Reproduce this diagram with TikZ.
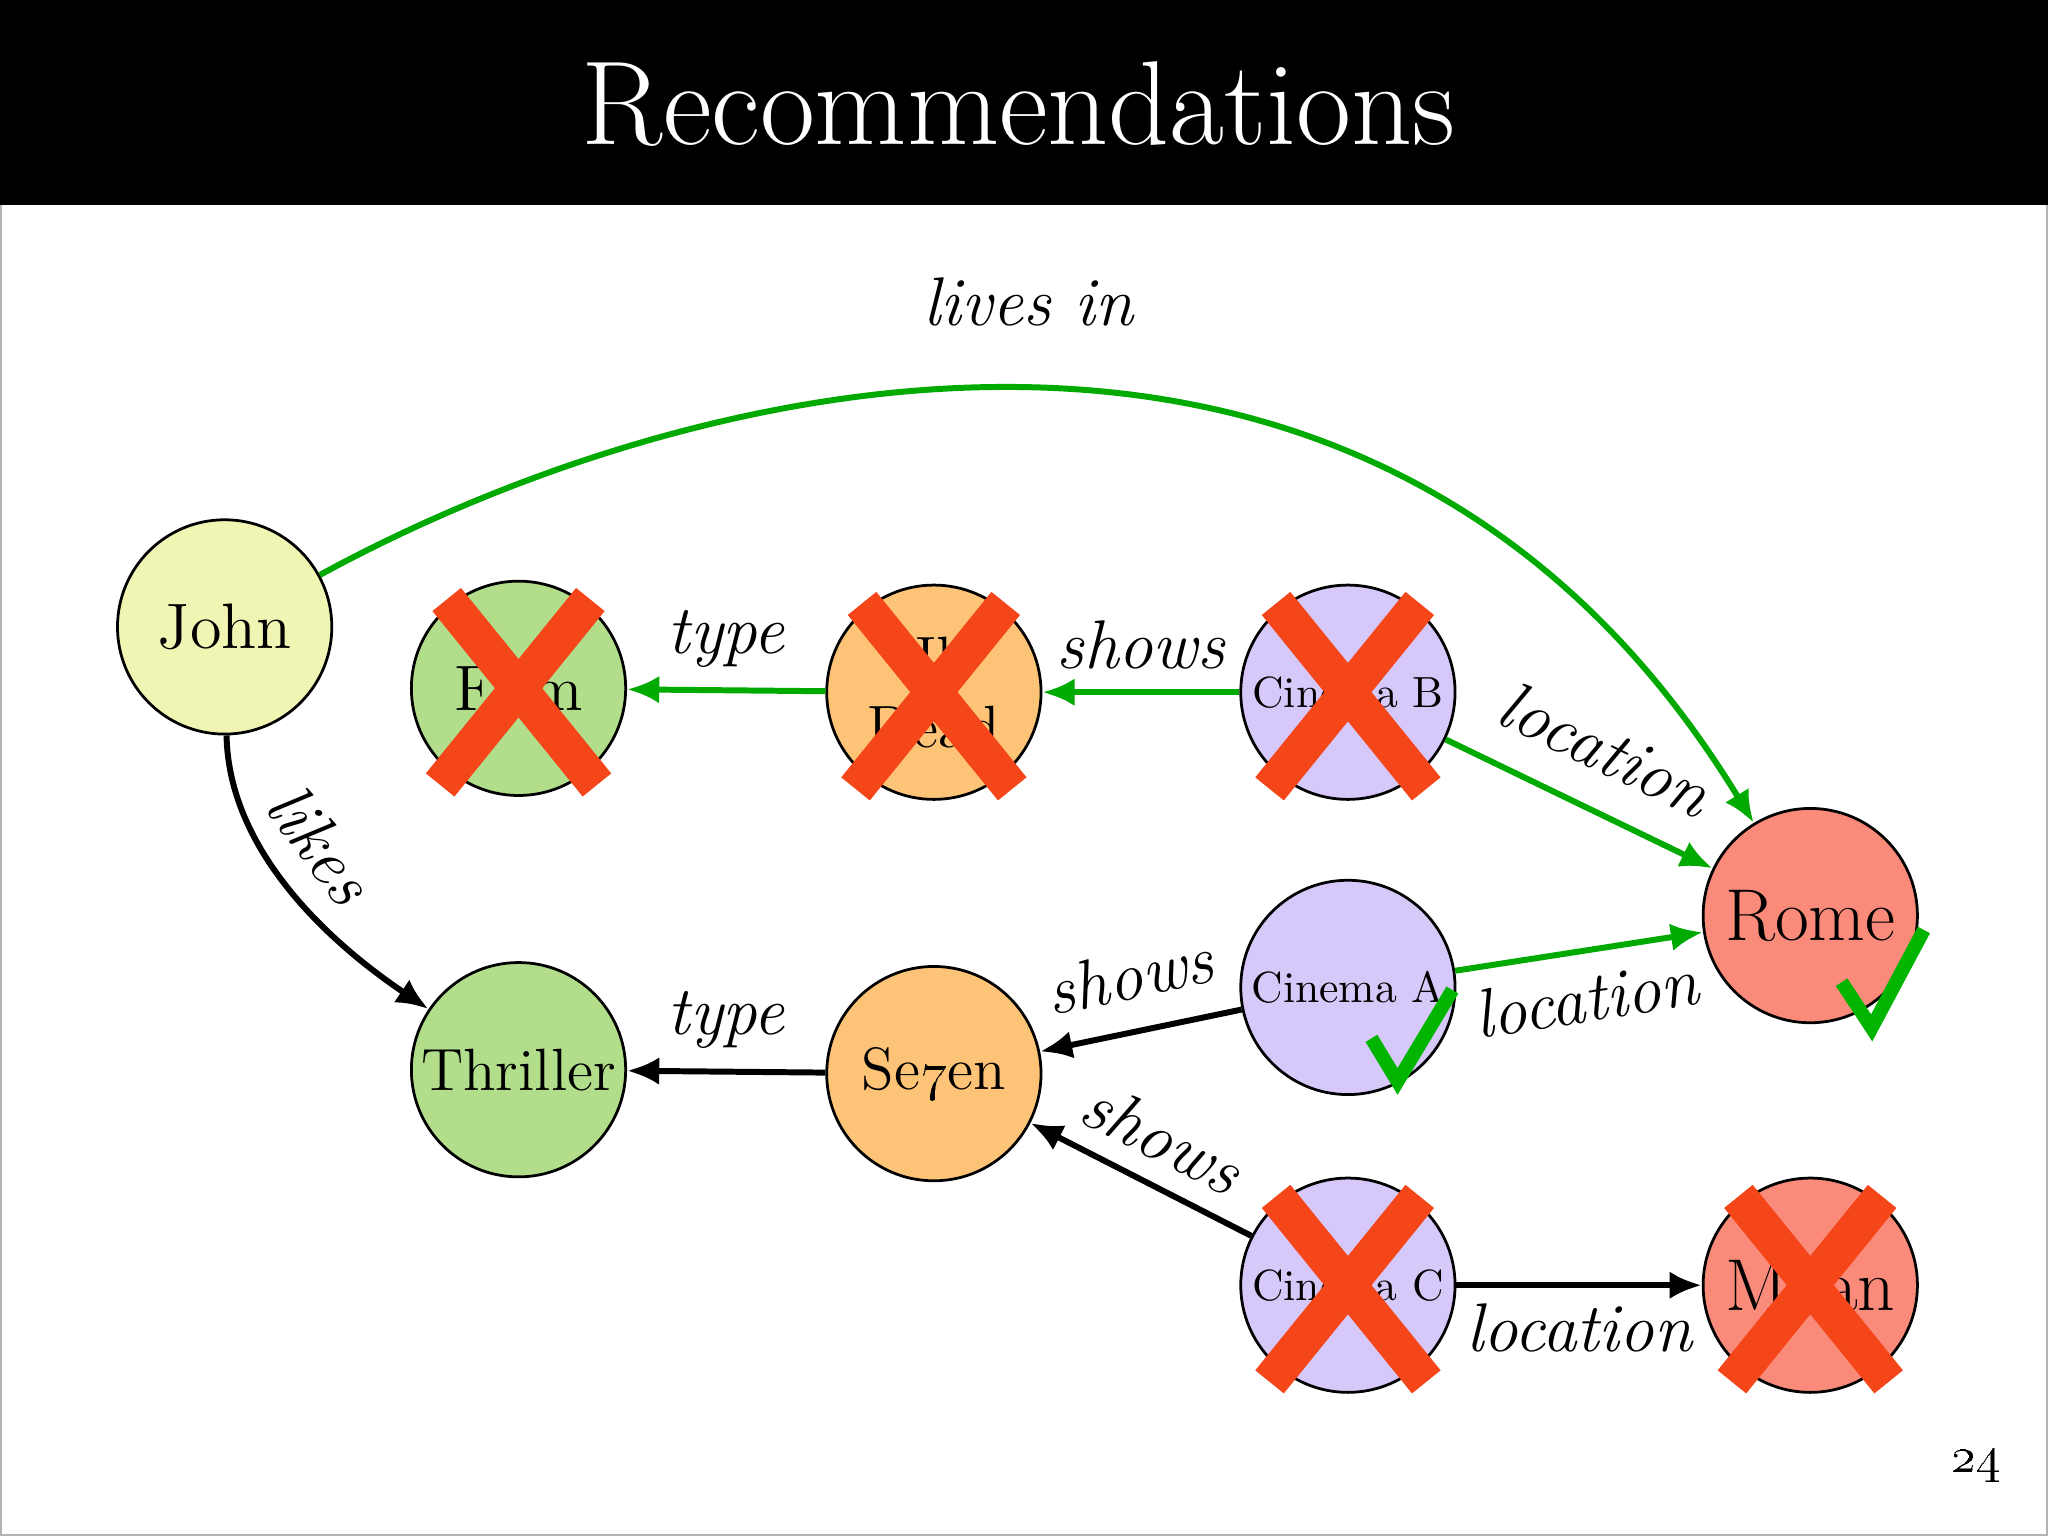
\documentclass[tikz,border=0pt]{standalone}
\usetikzlibrary{arrows.meta,calc}
\begin{document}
\begin{tikzpicture}[x=0.01cm,y=-0.01cm,
  nd/.style={circle,draw=black,line width=0.6pt,minimum size=1.64cm,inner sep=0pt,font=\fontsize{14}{14}\selectfont,align=center},
  sm/.style={nd,font=\fontsize{9.5}{10}\selectfont},
  ge/.style={draw={rgb,255:red,0;green,170;blue,0},line width=1.3pt,-{Latex[length=7pt,width=6pt]}},
  be/.style={draw=black,line width=1.3pt,-{Latex[length=7pt,width=6pt]}},
  lb/.style={font=\fontsize{15}{15}\selectfont\itshape},
  xx/.style={draw={rgb,255:red,245;green,70;blue,25},line width=8pt},
  ck/.style={draw={rgb,255:red,0;green,180;blue,0},line width=3pt}]
\useasboundingbox (0,0) rectangle (1568,1176);
\draw[gray!60,line width=0.8pt] (0,0) rectangle (1568,1176);
\fill[black] (0,0) rectangle (1568,157);
\node[white,font=\fontsize{26}{26}\selectfont] (title) at (780,80) {Recommendations};
\definecolor{cy}{RGB}{240,245,180}
\definecolor{cg}{RGB}{178,222,140}
\definecolor{co}{RGB}{253,196,120}
\definecolor{cp}{RGB}{215,200,250}
\definecolor{cr}{RGB}{250,138,122}
\node[nd,fill=cy] (john) at (172,480) {John};
\node[nd,fill=cg] (film) at (397,527) {Film};
\node[sm,fill=co,font=\fontsize{13}{15}\selectfont] (dead) at (715,530) {Il\\Dead};
\node[sm,fill=cp] (cb) at (1032,530) {Cinema B};
\node[nd,fill=cr,font=\fontsize{16}{16}\selectfont] (rome) at (1386,701) {Rome};
\node[nd,fill=cg,font=\fontsize{13}{13}\selectfont] (thr) at (397,819) {Thriller};
\node[nd,fill=co,font=\fontsize{13}{13}\selectfont] (se) at (715,822) {Se\oldstylenums{7}en};
\node[sm,fill=cp] (ca) at (1032,756) {Cinema A};
\node[sm,fill=cp] (cc) at (1032,984) {Cinema C};
\node[nd,fill=cr,font=\fontsize{16}{16}\selectfont] (milan) at (1386,984) {Milan};

\draw[ge] (john) .. controls (520,290) and (1050,150) .. (rome) node[pos=0.5,above=10pt,lb,black]{lives in};
\draw[ge] (dead) -- (film) node[midway,above=1pt,lb,black]{type};
\draw[ge] (cb) -- (dead) node[midway,above=1pt,lb,black]{shows};
\draw[ge] (cb) -- (rome) node[midway,above=4pt,sloped,lb,black]{location};
\draw[ge] (ca) -- (rome) node[midway,below=1pt,sloped,lb,black]{location};
\draw[be] (john) .. controls (175,650) and (250,720) .. (thr) node[pos=0.45,above=2pt,sloped,lb]{likes};
\draw[be] (se) -- (thr) node[midway,above=1pt,lb]{type};
\draw[be] (ca) -- (se) node[midway,above=3pt,sloped,lb]{shows};
\draw[be] (cc) -- (se) node[midway,above=1pt,sloped,lb]{shows};
\draw[be] (cc) -- (milan) node[midway,below=0pt,lb]{location};

\foreach \n in {film,dead,cb,cc,milan}{
  \draw[xx] ($(\n)+(-55,-68)$) -- ($(\n)+(60,74)$);
  \draw[xx] ($(\n)+(55,-68)$) -- ($(\n)+(-60,74)$);
}
\draw[ck] (1050,795) -- (1070,828) -- (1112,758);
\draw[ck] (1410,752) -- (1433,787) -- (1473,712);
\node[font=\fontsize{11}{11}\selectfont] (pg) at (1513,1122) {\oldstylenums{24}};
\end{tikzpicture}
\end{document}
